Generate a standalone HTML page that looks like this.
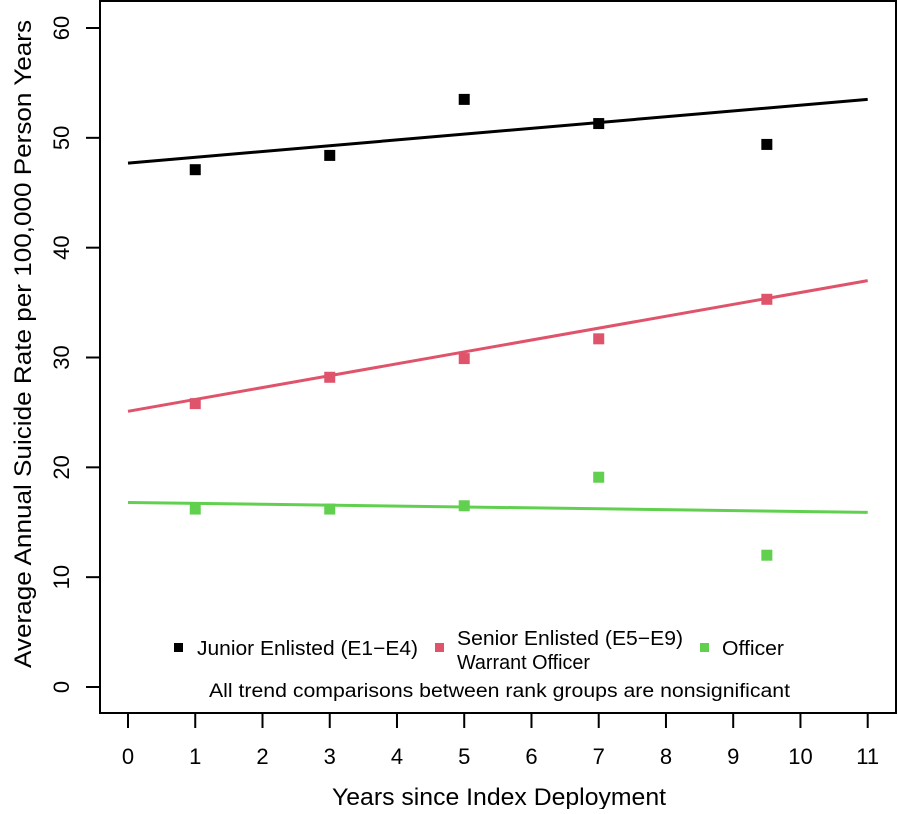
<!DOCTYPE html>
<html><head><meta charset="utf-8"><style>
body{margin:0;background:#fff}
svg text{font-family:"Liberation Sans",Arial,sans-serif;fill:#000}
</style></head><body>
<svg id="chart" width="898" height="809">
<rect x="100" y="1" width="796" height="712" fill="none" stroke="#000" stroke-width="2"/>
<g id="axes"></g><g id="marks"></g>
<text x="499" y="805" font-size="24" textLength="334" lengthAdjust="spacingAndGlyphs" text-anchor="middle">Years since Index Deployment</text>
<text transform="translate(31,344) rotate(-90)" font-size="24" textLength="648" lengthAdjust="spacingAndGlyphs" text-anchor="middle">Average Annual Suicide Rate per 100,000 Person Years</text>
<g>
<rect x="174" y="643" width="9" height="9" fill="#000"/>
<text x="197" y="655" font-size="20" textLength="221" lengthAdjust="spacingAndGlyphs">Junior Enlisted (E1−E4)</text>
<rect x="435" y="643" width="9" height="9" fill="#DF536B"/>
<text x="457" y="645" font-size="20" textLength="226" lengthAdjust="spacingAndGlyphs">Senior Enlisted (E5−E9)</text>
<text x="457" y="669" font-size="20" textLength="133" lengthAdjust="spacingAndGlyphs">Warrant Officer</text>
<rect x="700" y="643" width="9" height="9" fill="#61D04F"/>
<text x="722" y="655" font-size="20" textLength="62" lengthAdjust="spacingAndGlyphs">Officer</text>
<text x="209" y="697" font-size="19" textLength="581" lengthAdjust="spacingAndGlyphs">All trend comparisons between rank groups are nonsignificant</text>
</g>
</svg>
<script>
const xTicks=[0,1,2,3,4,5,6,7,8,9,10,11];
const yTicks=[0,10,20,30,40,50,60];
const years=[1,3,5,7,9.5];
const junior=[47.1,48.4,53.5,51.3,49.4];
const senior=[25.8,28.2,29.9,31.7,35.3];
const officer=[16.2,16.2,16.5,19.1,12.0];
const juniorFit=[47.7,53.5];
const seniorFit=[25.1,37.0];
const officerFit=[16.8,15.9];
const fitX=[0,11];
const NS="http://www.w3.org/2000/svg";
const X=v=>128+v*(867.7-128)/11;
const Y=v=>687-v*(687-28)/60;
const axes=document.getElementById('axes'),marks=document.getElementById('marks');
function mk(tag,at,parent){const e=document.createElementNS(NS,tag);for(const k in at)e.setAttribute(k,at[k]);parent.appendChild(e);return e;}
xTicks.forEach(t=>{
 const l=mk('line',{x1:X(t),x2:X(t),y1:713,y2:728,stroke:'#000','stroke-width':2},axes);
 
 
 const tx=mk('text',{x:X(t),y:764,'font-size':22,'text-anchor':'middle'},axes);tx.textContent=t;
 
 
});
yTicks.forEach(t=>{
 const l=mk('line',{x1:86,x2:100,y1:Y(t),y2:Y(t),stroke:'#000','stroke-width':2},axes);
 
 
 const tx=mk('text',{transform:`translate(69,${Y(t)}) rotate(-90)`,'font-size':22,'text-anchor':'middle'},axes);tx.textContent=t;
 
 
});
function series(vals,fit,col,name){
 const l=mk('line',{x1:X(fitX[0]),y1:Y(fit[0]),x2:X(fitX[1]),y2:Y(fit[1]),stroke:col,'stroke-width':3},marks);
 
 
 vals.forEach((v,i)=>{
  const r=mk('rect',{x:X(years[i])-5.5,y:Y(v)-5.5,width:11,height:11,fill:col},marks);
  
  
 });
}
series(junior,juniorFit,'#000','junior');
series(senior,seniorFit,'#DF536B','senior');
series(officer,officerFit,'#61D04F','officer');
</script>
</body></html>
